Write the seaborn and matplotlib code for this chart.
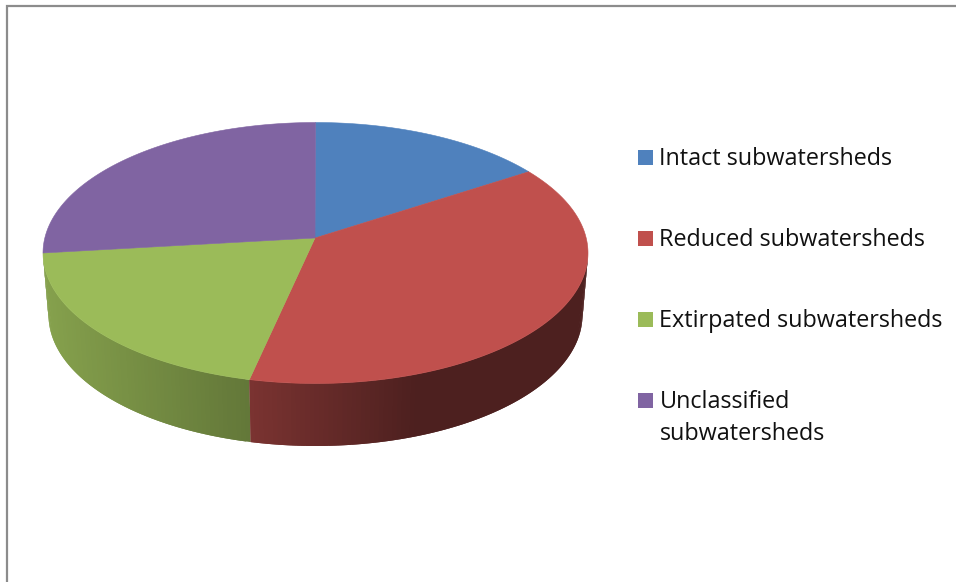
import numpy as np
import matplotlib
matplotlib.use('Agg')
import matplotlib.pyplot as plt
import seaborn as sns

# Datos del gráfico.
categories = ['Intact subwatersheds', 'Reduced subwatersheds', 'Extirpated subwatersheds', 'Unclassified\nsubwatersheds']
shares = [14.3, 39.6, 21.1, 25.0]
colors = ['#4F81BD', '#C0504D', '#9BBB59', '#8064A2']

sns.set_theme(style='white')
plt.rcParams['font.family'] = ['Open Sans', 'DejaVu Sans']

fig = plt.figure(figsize=(9.56, 5.82), dpi=100)
ax = fig.add_axes([0, 0, 1, 1])

# Marco.
ax.plot([7, 7, 956], [582, 6, 6], color='#8c8c8c', lw=1.6, solid_joinstyle='miter')


def top_xy(theta):
    return 315.5 + 272.5 * np.sin(theta), 253 - 130.5 * np.cos(theta)


def bottom_xy(theta):
    return 315.5 + 267 * np.sin(theta), 315 - 131 * np.cos(theta)


edges = np.radians(np.cumsum([0] + shares) / sum(shares) * 360)

# Pared lateral con degradado: cada tira pisa a la anterior para que no se vean juntas.
for i in [2, 1]:
    rgb = np.array(matplotlib.colors.to_rgb(colors[i]))
    lo = max(edges[i], np.pi / 2)
    hi = min(edges[i + 1], 3 * np.pi / 2)
    steps = np.linspace(lo, hi, int(np.degrees(hi - lo)) + 2)
    for a, b in zip(steps[:-1], steps[1:]):
        end = min(hi, b + np.radians(1))
        x1, y1 = top_xy(np.array([a, end]))
        x2, y2 = bottom_xy(np.array([end, a]))
        shade = np.interp(top_xy(a)[0], [45, 250, 420, 590], [0.86, 0.64, 0.40, 0.40])
        ax.fill(np.r_[x1, x2], np.r_[y1, y2], color=tuple(rgb * shade), lw=0)

# Cara superior.
for i, color in enumerate(colors):
    t = np.linspace(edges[i], edges[i + 1], 200)
    x, y = top_xy(t)
    ax.fill(np.r_[315, x], np.r_[238, y], color=color, lw=0.4)

# Leyenda.
legend_y = [157.5, 238.5, 319.5, 400.5]
sns.scatterplot(x=[645.5] * 4, y=legend_y, hue=categories, palette=colors, marker='s', s=117,
                linewidth=0, legend=False, ax=ax)
for label, y in zip(categories, legend_y):
    for j, line in enumerate(label.split('\n')):
        ax.text(659.5, y + 7.5 + j * 32, line, fontsize=16.8, color='#111111', va='baseline')

ax.set_xlim(0, 956)
ax.set_ylim(582, 0)
ax.axis('off')

fig.savefig('out.png', dpi=100, facecolor='white')
